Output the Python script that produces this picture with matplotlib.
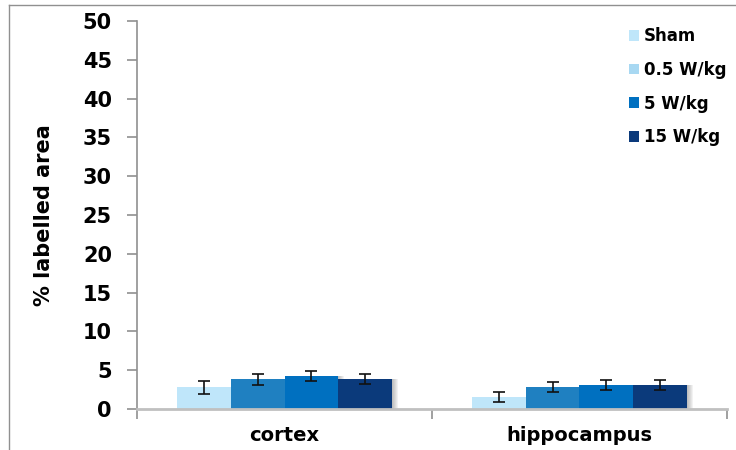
import numpy as np
import matplotlib
matplotlib.use("Agg")
import matplotlib.pyplot as plt
from matplotlib.patches import Patch
from matplotlib.lines import Line2D

plt.rcParams['font.family'] = ['DejaVu Sans']
plt.rcParams['font.weight'] = 'bold'

regions = ['cortex', 'hippocampus']
groups = ['Sham', '0.5 W/kg', '5 W/kg', '15 W/kg']
means = {
    'Sham': [2.8, 1.5],
    '0.5 W/kg': [3.85, 2.85],
    '5 W/kg': [4.2, 3.1],
    '15 W/kg': [3.85, 3.1],
}
errors = {
    'Sham': [0.85, 0.65],
    '0.5 W/kg': [0.7, 0.6],
    '5 W/kg': [0.65, 0.65],
    '15 W/kg': [0.6, 0.65],
}
bar_colors = ['#bfe6fa', '#1f80c1', '#0070c0', '#0b3a7b']
legend_colors = ['#bfe6fa', '#a8d8f2', '#0070c0', '#0b3a7b']

fig = plt.figure(figsize=(7.36, 4.5), dpi=100)
ax = fig.add_axes([137 / 736, 1 - 409 / 450, 590 / 736, 388 / 450])

x = np.arange(len(regions))
w = 0.183
px = 2.0 / 590  # one pixel in data units along x

for i, g in enumerate(groups):
    pos = x + (i - 1.5) * w
    # soft drop shadow on the right of each bar
    for k in range(1, 7):
        ax.bar(pos + k * px, means[g], w, color='#606060', alpha=0.08,
               zorder=1, linewidth=0)
    ax.bar(pos, means[g], w, color=bar_colors[i], zorder=2, linewidth=0)
    ax.errorbar(pos, means[g], yerr=errors[g], fmt='none', ecolor='#111111',
                elinewidth=1.2, capsize=4, capthick=1.2, zorder=3)

ax.set_xlim(-0.5, 1.5)
ax.set_ylim(0, 50)
ax.set_yticks(np.arange(0, 51, 5))
ax.set_xticks(x)
ax.set_xticklabels(regions, fontsize=14, fontweight='bold')
ax.set_xticks([-0.5, 0.5, 1.5], minor=True)
ax.tick_params(axis='x', which='major', length=0, pad=12)
ax.tick_params(axis='x', which='minor', length=7, width=1.2, color='#909090')
ax.tick_params(axis='y', length=7, width=1.2, color='#909090', labelsize=15, pad=11)
for lab in ax.get_yticklabels():
    lab.set_fontweight('bold')

ax.spines['top'].set_visible(False)
ax.spines['right'].set_visible(False)
ax.spines['left'].set_color('#909090')
ax.spines['left'].set_linewidth(1.2)
ax.spines['bottom'].set_color('#c0c0c0')
ax.spines['bottom'].set_linewidth(2)

ax.set_ylabel('% labelled area', fontsize=15, fontweight='bold', labelpad=21)

handles = [Patch(facecolor=c, edgecolor='none') for c in legend_colors]
ax.legend(handles, groups, loc='upper left', bbox_to_anchor=(0.834, 0.984),
          frameon=False, prop={'size': 12, 'weight': 'bold'},
          handlelength=0.6, handleheight=0.6, handletextpad=0.3,
          labelspacing=0.94, borderaxespad=0, borderpad=0)

# outer frame
fig.add_artist(Line2D([9 / 736, 9 / 736], [0, 1 - 5 / 450], color='#909090', lw=1))
fig.add_artist(Line2D([9 / 736, 1], [1 - 5 / 450, 1 - 5 / 450], color='#909090', lw=1))

fig.savefig('out.png', dpi=100)
